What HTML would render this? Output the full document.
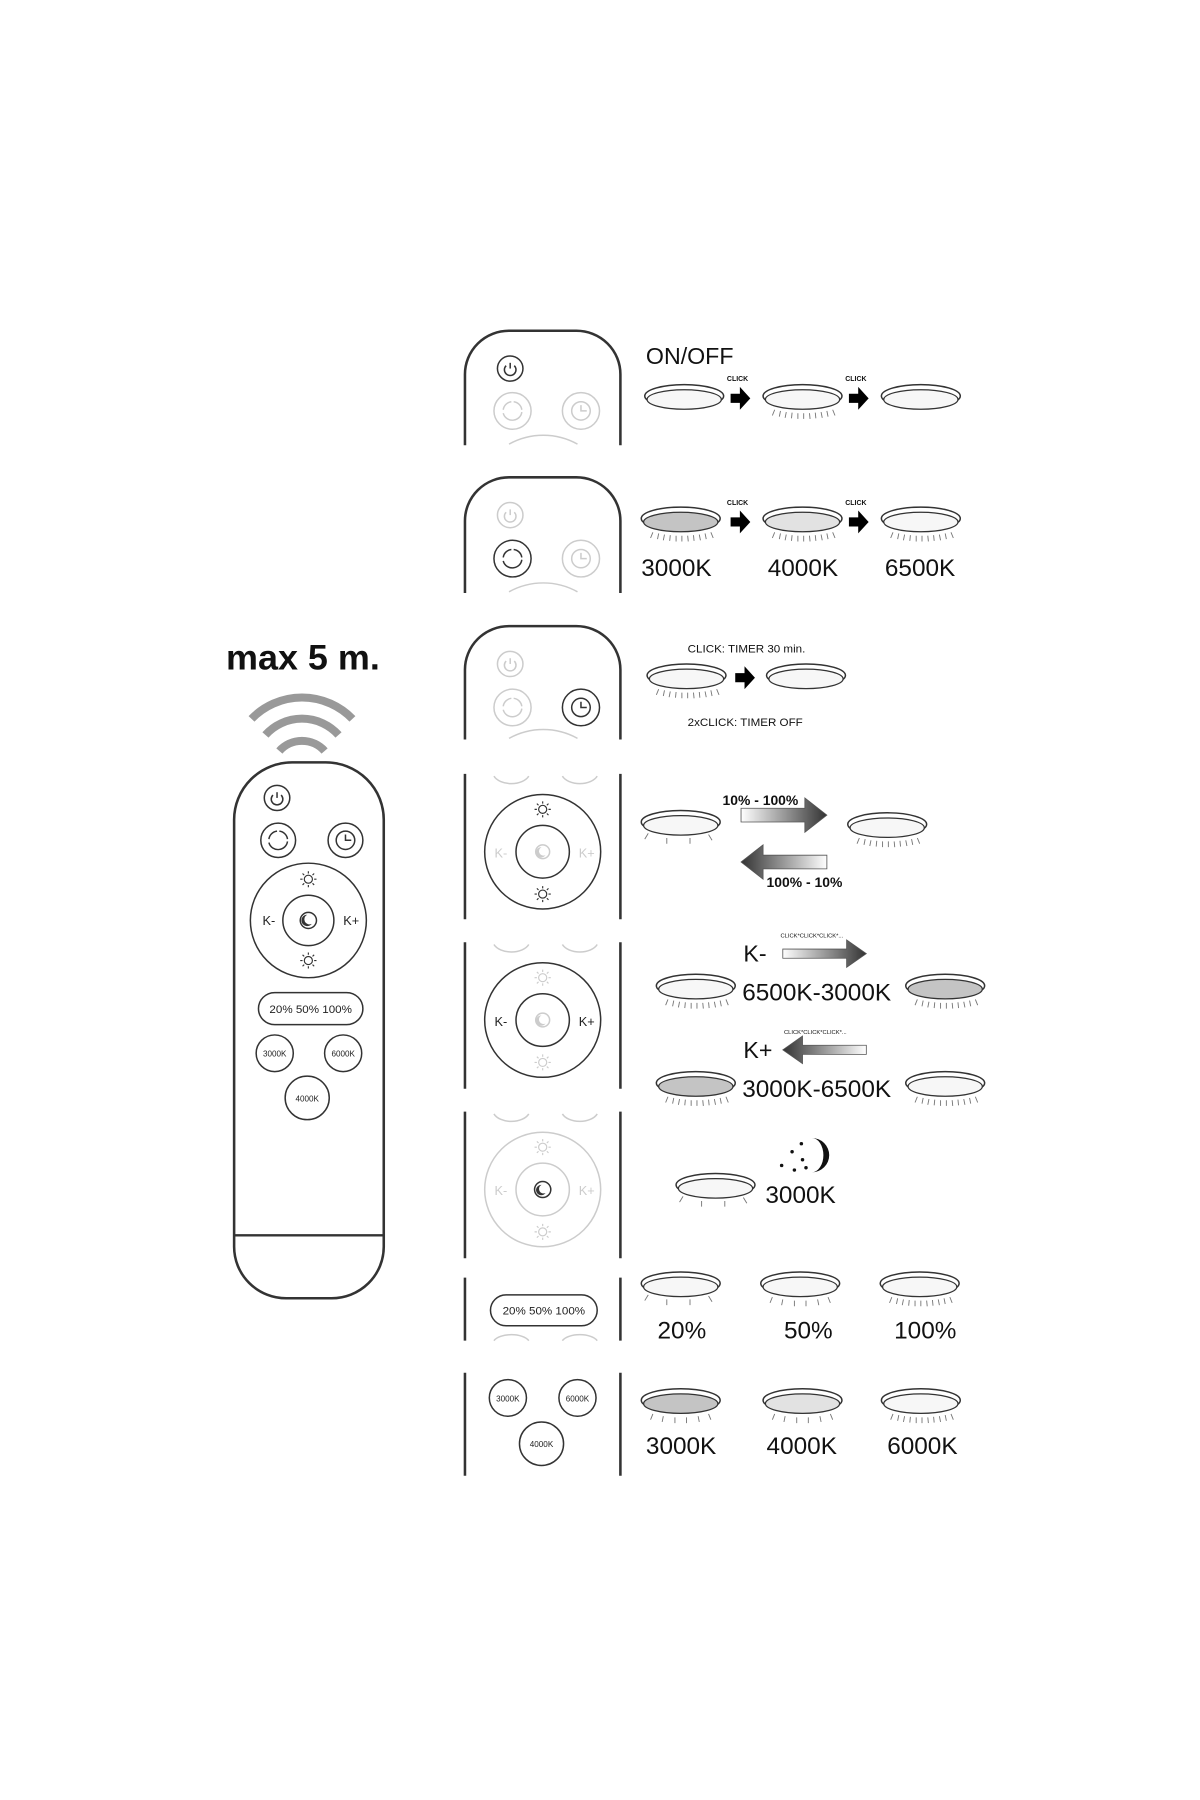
<!DOCTYPE html>
<html><head><meta charset="utf-8"><style>
html,body{margin:0;padding:0;background:#fff;width:1200px;height:1800px;overflow:hidden}
svg{display:block}
text{font-family:"Liberation Sans",Arial,sans-serif}
</style></head><body>
<svg width="1200" height="1800" viewBox="0 0 1200 1800" xmlns="http://www.w3.org/2000/svg">
<defs>
<linearGradient id="gr" x1="0" x2="1" y1="0" y2="0"><stop offset="0" stop-color="#fff"/><stop offset="1" stop-color="#333"/></linearGradient>
<linearGradient id="gl" x1="1" x2="0" y1="0" y2="0"><stop offset="0" stop-color="#fff"/><stop offset="1" stop-color="#333"/></linearGradient>
<g id="lampW"><ellipse cx="0" cy="0" rx="34" ry="10" fill="#fff" stroke="#333" stroke-width="1.3"/><ellipse cx="0" cy="3" rx="32" ry="8.5" fill="#f7f7f7" stroke="#333" stroke-width="1.1"/></g>
<g id="lampG"><ellipse cx="0" cy="0" rx="34" ry="10" fill="#fff" stroke="#333" stroke-width="1.3"/><ellipse cx="0" cy="3" rx="32" ry="8.5" fill="#c4c4c4" stroke="#333" stroke-width="1.1"/></g>
<g id="lampL"><ellipse cx="0" cy="0" rx="34" ry="10" fill="#fff" stroke="#333" stroke-width="1.3"/><ellipse cx="0" cy="3" rx="32" ry="8.5" fill="#e2e2e2" stroke="#333" stroke-width="1.1"/></g>
<g id="rays" stroke="#777" stroke-width="0.8"><path d="M-24 12l-2 5M-19 13l-1 5M-14 14l-1 5M-9 14.5l-.5 5M-4 15v5M1 15v5M6 15l.5 5M11 14.5l.5 5M16 14l1 5M21 13l1 5M26 12l2 5"/></g>
<g id="raysS" stroke="#777" stroke-width="0.8"><path d="M-28 10l-3 5M-12 14v5M8 14v5M24 11l3 5"/></g>
<g id="raysM" stroke="#777" stroke-width="0.8"><path d="M-24 12l-2 5M-15 14l-1 5M-5 15v5M5 15v5M15 14l1 5M24 12l2 5"/></g>
<g id="arrR"><path d="M-8 -4h8v-6l9 10-9 10v-6h-8z" fill="#000"/></g>
<g id="sun" fill="none" stroke-width="1"><circle r="3.5"/><path d="M0 -7v2M0 5v2M-7 0h2M5 0h2M-5 -5l1.4 1.4M3.6 3.6l1.4 1.4M5 -5l-1.4 1.4M-3.6 3.6l-1.4 1.4"/></g>
<g id="pwr" fill="none"><path d="M-3.5 -3.5a5 5 0 1 0 7 0"/><path d="M0 -6v5"/></g>
<g id="cyc" fill="none"><path d="M-8 -1a8 8 0 0 1 7 -7M1 8a8 8 0 0 1 -9 -6M8 1a8 8 0 0 1 -7 7M1 -8a8 8 0 0 1 7 7"/></g>
<g id="clk" fill="none"><circle r="8"/><path d="M0 -5v5h5"/></g>
</defs>

<g transform="translate(-6,1) scale(1.16,1.145)">
<text x="200" y="584" font-size="31" font-weight="bold" fill="#111">max 5 m.</text>
<g fill="none" stroke="#999" stroke-width="7" stroke-linecap="butt">
<path d="M222 627 A60 60 0 0 1 309 627"/>
<path d="M234 641 A42 42 0 0 1 297 641"/>
<path d="M246 655 A26 26 0 0 1 285 655"/>
</g>
<path d="M257 665 H286 A50 50 0 0 1 336 715 V1088 A45 45 0 0 1 291 1133 H252 A45 45 0 0 1 207 1088 V715 A50 50 0 0 1 257 665 Z" fill="#fff" stroke="#333" stroke-width="2.2"/>
<path d="M207 1078 H336" stroke="#333" stroke-width="2"/>
<g stroke="#333" stroke-width="1.3" fill="none">
<circle cx="244" cy="696" r="11"/><use href="#pwr" x="244" y="697"/>
<circle cx="245" cy="733" r="15"/><use href="#cyc" x="245" y="733"/>
<circle cx="303" cy="733" r="15"/><use href="#clk" x="303" y="733"/>
<circle cx="271" cy="803" r="50"/><circle cx="271" cy="803" r="22"/>
<use href="#sun" x="271" y="767"/><use href="#sun" x="271" y="838"/>
<circle cx="271" cy="803" r="7"/>
<rect x="228" y="866" width="90" height="28" rx="14"/>
<circle cx="242" cy="919" r="16"/><circle cx="301" cy="919" r="16"/><circle cx="270" cy="958" r="19"/>
</g>
<path d="M270 798a5 5 0 1 0 4 8a4 4 0 1 1 -4 -8z" fill="#333"/>
<g font-size="11" fill="#222" text-anchor="middle">
<text x="237" y="807">K-</text><text x="308" y="807">K+</text>
<text x="273" y="884" font-size="10">20%  50%  100%</text>
<text x="242" y="922" font-size="7">3000K</text><text x="301" y="922" font-size="7">6000K</text><text x="270" y="961" font-size="7">4000K</text>
</g>

<g fill="none" stroke="#333" stroke-width="2.2">
<path d="M406 388V326A38 38 0 0 1 444 288H502A38 38 0 0 1 540 326V388"/>
<path d="M406 517V454A38 38 0 0 1 444 416H502A38 38 0 0 1 540 454V517"/>
<path d="M406 645V584A38 38 0 0 1 444 546H502A38 38 0 0 1 540 584V645"/>
<path d="M406 675V802M540 675V802"/>
<path d="M406 822V950M540 822V950"/>
<path d="M406 970V1098M540 970V1098"/>
<path d="M406 1115V1170M540 1115V1170"/>
<path d="M406 1198V1288M540 1198V1288"/>
</g>
<g fill="none" stroke-width="1.3">
<g stroke="#333"><circle cx="445" cy="321" r="11"/><use href="#pwr" x="445" y="322"/></g>
<g stroke="#ccc"><circle cx="447" cy="358" r="16"/><use href="#cyc" x="447" y="358"/><circle cx="506" cy="358" r="16"/><use href="#clk" x="506" y="358"/><path d="M444 387A60 60 0 0 1 503 387"/></g>
<g stroke="#ccc"><circle cx="445" cy="449" r="11"/><use href="#pwr" x="445" y="450"/><circle cx="506" cy="487" r="16"/><use href="#clk" x="506" y="487"/><path d="M444 516A60 60 0 0 1 503 516"/></g>
<g stroke="#333"><circle cx="447" cy="487" r="16"/><use href="#cyc" x="447" y="487"/></g>
<g stroke="#ccc"><circle cx="445" cy="579" r="11"/><use href="#pwr" x="445" y="580"/><circle cx="447" cy="617" r="16"/><use href="#cyc" x="447" y="617"/><path d="M444 644A60 60 0 0 1 503 644"/></g>
<g stroke="#333"><circle cx="506" cy="617" r="16"/><use href="#clk" x="506" y="617"/></g>
<g stroke="#ccc"><path d="M431 677a16 10 0 0 0 30 0M490 677a16 10 0 0 0 30 0"/><circle cx="473" cy="743" r="6"/></g>
<g stroke="#333"><circle cx="473" cy="743" r="50"/><circle cx="473" cy="743" r="23"/><use href="#sun" x="473" y="706"/><use href="#sun" x="473" y="780"/></g>
<g stroke="#ccc"><path d="M431 824a16 10 0 0 0 30 0M490 824a16 10 0 0 0 30 0"/><circle cx="473" cy="890" r="6"/><use href="#sun" x="473" y="853"/><use href="#sun" x="473" y="927"/></g>
<g stroke="#333"><circle cx="473" cy="890" r="50"/><circle cx="473" cy="890" r="23"/></g>
<g stroke="#ccc"><path d="M431 972a16 10 0 0 0 30 0M490 972a16 10 0 0 0 30 0"/><circle cx="473" cy="1038" r="50"/><circle cx="473" cy="1038" r="23"/><use href="#sun" x="473" y="1001"/><use href="#sun" x="473" y="1075"/></g>
<g stroke="#333"><circle cx="473" cy="1038" r="7"/></g>
<g stroke="#333"><rect x="428" y="1130" width="92" height="27" rx="13.5"/></g>
<g stroke="#ccc"><path d="M431 1170a16 8 0 0 1 30 0M490 1170a16 8 0 0 1 30 0"/></g>
<g stroke="#333"><circle cx="443" cy="1220" r="16"/><circle cx="503" cy="1220" r="16"/><circle cx="472" cy="1260" r="19"/></g>
</g>
<path d="M472 739a4.5 4.5 0 1 0 3.5 7a3.5 3.5 0 1 1 -3.5 -7z" fill="#ccc"/>
<path d="M472 886a4.5 4.5 0 1 0 3.5 7a3.5 3.5 0 1 1 -3.5 -7z" fill="#ccc"/>
<path d="M472 1034a4.5 4.5 0 1 0 3.5 7a3.5 3.5 0 1 1 -3.5 -7z" fill="#333"/>
<g font-size="11" text-anchor="middle">
<text x="437" y="748" fill="#ccc">K-</text><text x="511" y="748" fill="#ccc">K+</text>
<text x="437" y="895" fill="#222">K-</text><text x="511" y="895" fill="#222">K+</text>
<text x="437" y="1043" fill="#ccc">K-</text><text x="511" y="1043" fill="#ccc">K+</text>
<text x="474" y="1147" font-size="10" fill="#222">20%  50%  100%</text>
<text x="443" y="1223" font-size="7" fill="#222">3000K</text><text x="503" y="1223" font-size="7" fill="#222">6000K</text><text x="472" y="1263" font-size="7" fill="#222">4000K</text>
</g>

<g fill="#111">
<text x="562" y="317" font-size="20">ON/OFF</text>
<use href="#lampW" x="595" y="345"/>
<use href="#lampW" x="697" y="345"/><use href="#rays" x="697" y="345"/>
<use href="#lampW" x="799" y="345"/>
<text x="641" y="332" font-size="6" text-anchor="middle" font-weight="bold">CLICK</text>
<text x="743" y="332" font-size="6" text-anchor="middle" font-weight="bold">CLICK</text>
<use href="#arrR" x="643" y="347"/><use href="#arrR" x="745" y="347"/>

<use href="#lampG" x="592" y="452"/><use href="#rays" x="592" y="452"/>
<use href="#lampL" x="697" y="452"/><use href="#rays" x="697" y="452"/>
<use href="#lampW" x="799" y="452"/><use href="#rays" x="799" y="452"/>
<text x="641" y="440" font-size="6" text-anchor="middle" font-weight="bold">CLICK</text>
<text x="743" y="440" font-size="6" text-anchor="middle" font-weight="bold">CLICK</text>
<use href="#arrR" x="643" y="455"/><use href="#arrR" x="745" y="455"/>
<text x="558" y="502" font-size="21">3000K</text>
<text x="667" y="502" font-size="21">4000K</text>
<text x="768" y="502" font-size="21">6500K</text>

<text x="598" y="569" font-size="10">CLICK: TIMER 30 min.</text>
<use href="#lampW" x="597" y="589"/><use href="#rays" x="597" y="589"/>
<use href="#lampW" x="700" y="589"/>
<use href="#arrR" x="647" y="591"/>
<text x="598" y="633" font-size="10">2xCLICK: TIMER OFF</text>

<use href="#lampW" x="592" y="717"/><use href="#raysS" x="592" y="717"/>
<use href="#lampW" x="770" y="719"/><use href="#rays" x="770" y="719"/>
<text x="628" y="702" font-size="12" font-weight="bold">10% - 100%</text>
<path d="M644 705h55v-9l19 15-19 15v-9h-55z" fill="url(#gr)" stroke="#555" stroke-width="0.7"/>
<path d="M718 746h-55v-9l-19 15 19 15v-9h55z" fill="url(#gl)" stroke="#555" stroke-width="0.7"/>
<text x="666" y="774" font-size="12" font-weight="bold">100% - 10%</text>

<text x="646" y="839" font-size="20">K-</text>
<text x="678" y="818" font-size="5">CLICK*CLICK*CLICK*...</text>
<path d="M680 828h55v-8l17 12-17 12v-8h-55z" fill="url(#gr)" stroke="#555" stroke-width="0.7"/>
<use href="#lampW" x="605" y="860"/><use href="#rays" x="605" y="860"/>
<text x="645" y="873" font-size="21">6500K-3000K</text>
<use href="#lampG" x="820" y="860"/><use href="#rays" x="820" y="860"/>
<text x="646" y="923" font-size="20">K+</text>
<text x="681" y="902" font-size="5">CLICK*CLICK*CLICK*...</text>
<path d="M752 912h-55v-8l-17 12 17 12v-8h55z" fill="url(#gl)" stroke="#555" stroke-width="0.7"/>
<use href="#lampG" x="605" y="945"/><use href="#rays" x="605" y="945"/>
<text x="645" y="957" font-size="21">3000K-6500K</text>
<use href="#lampW" x="820" y="945"/><use href="#rays" x="820" y="945"/>

<path d="M705 993 A15 15 0 1 1 705 1023 A10 15 0 1 0 705 993 Z" fill="#111"/>
<circle cx="696" cy="998" r="1.5"/><circle cx="688" cy="1005" r="1.5"/><circle cx="697" cy="1012" r="1.5"/><circle cx="679" cy="1017" r="1.5"/><circle cx="690" cy="1021" r="1.5"/><circle cx="700" cy="1019" r="1.5"/>
<use href="#lampW" x="622" y="1034"/><use href="#raysS" x="622" y="1034"/>
<text x="665" y="1050" font-size="21">3000K</text>

<use href="#lampW" x="592" y="1120"/><use href="#raysS" x="592" y="1120"/>
<use href="#lampW" x="695" y="1120"/><use href="#raysM" x="695" y="1120"/>
<use href="#lampW" x="798" y="1120"/><use href="#rays" x="798" y="1120"/>
<text x="572" y="1168" font-size="21">20%</text>
<text x="681" y="1168" font-size="21">50%</text>
<text x="776" y="1168" font-size="21">100%</text>

<use href="#lampG" x="592" y="1222"/><use href="#raysM" x="592" y="1222"/>
<use href="#lampL" x="697" y="1222"/><use href="#raysM" x="697" y="1222"/>
<use href="#lampW" x="799" y="1222"/><use href="#rays" x="799" y="1222"/>
<text x="562" y="1269" font-size="21">3000K</text>
<text x="666" y="1269" font-size="21">4000K</text>
<text x="770" y="1269" font-size="21">6000K</text>
</g>
</g>
</svg>
</body></html>
